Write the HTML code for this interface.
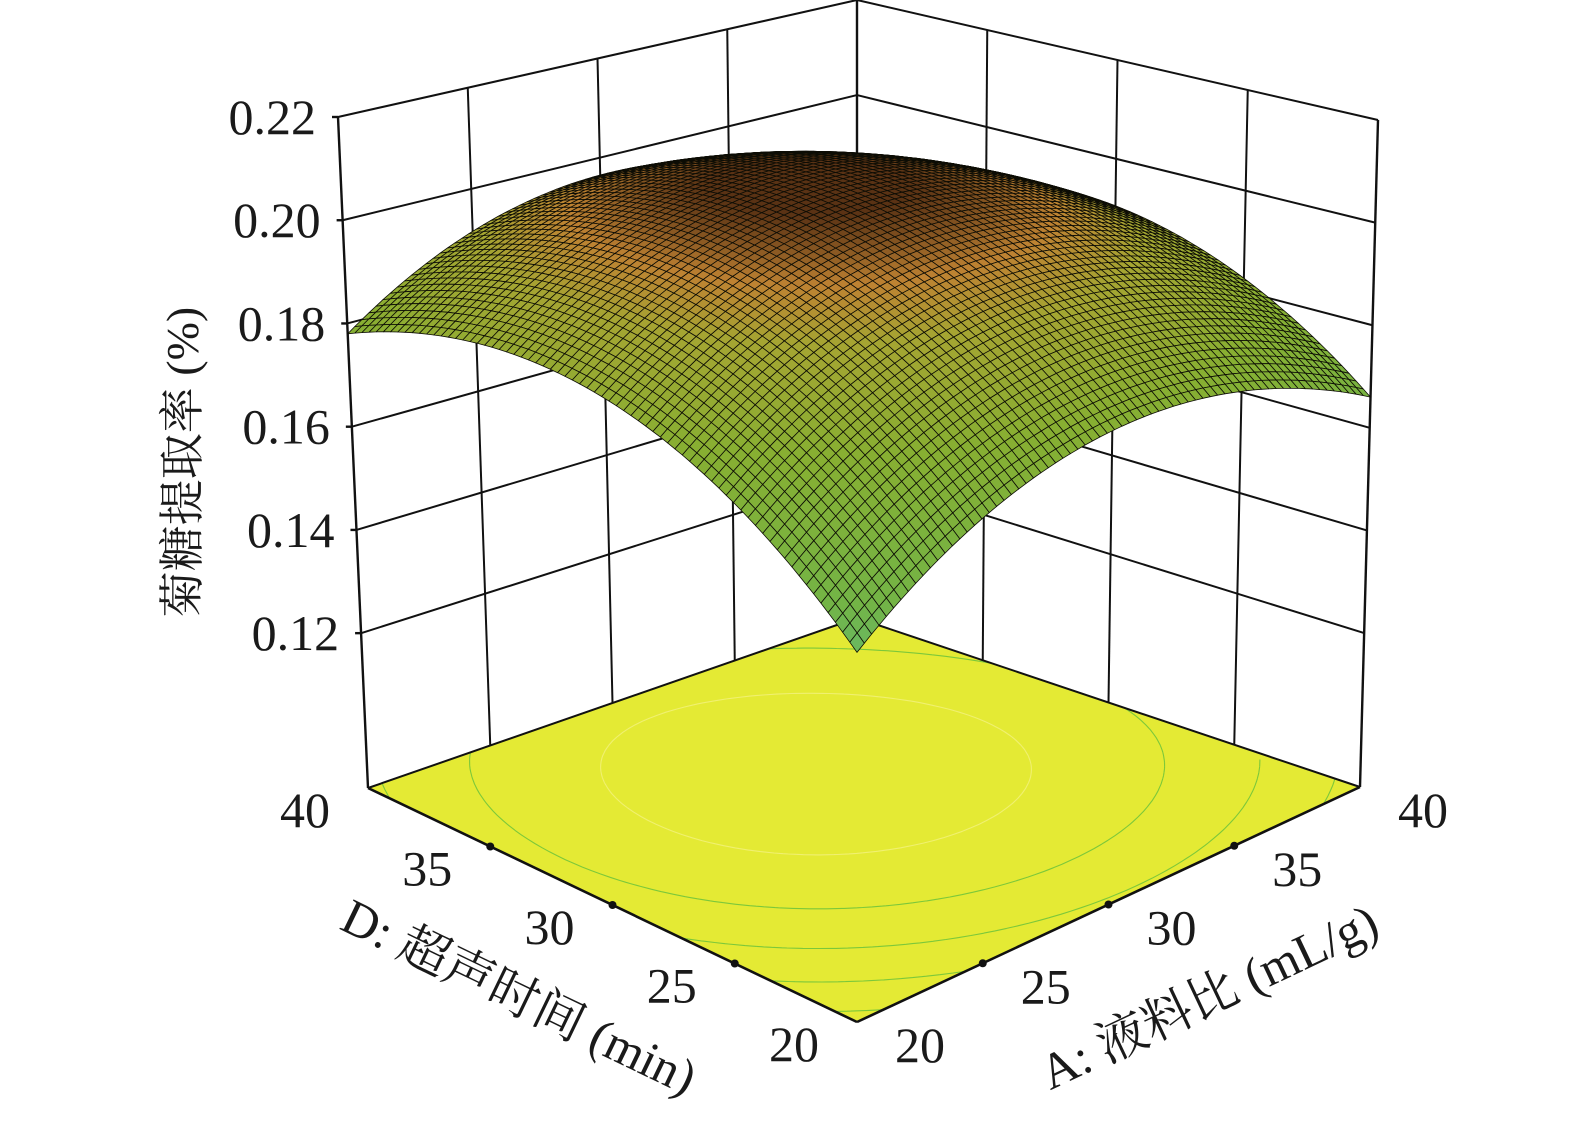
<!DOCTYPE html>
<html><head><meta charset="utf-8">
<style>
html,body{margin:0;padding:0;background:#fff;}
svg text{font-family:"Liberation Serif","Noto Serif CJK SC",serif;fill:#1a1a1a;}
</style></head>
<body>
<svg id="chart" width="1575" height="1130" viewBox="0 0 1575 1130" xmlns="http://www.w3.org/2000/svg">
<g id="floor"></g>
<g id="walls"></g>
<g id="surface"></g>
<g id="axes"></g>
<text transform="translate(198,462) rotate(-90)" text-anchor="middle" font-size="46">菊糖提取率 (%)</text>
<text transform="translate(512,1012) rotate(25.7)" text-anchor="middle" font-size="50">D: 超声时间 (min)</text>
<text transform="translate(1216,1012) rotate(-25.3)" text-anchor="middle" font-size="50">A: 液料比 (mL/g)</text>
</svg>
<script>
const zTicks=[0.12,0.14,0.16,0.18,0.20,0.22];
const zTickLabels=["0.12","0.14","0.16","0.18","0.20","0.22"];
const aTicks=[20,25,30,35,40];
const dTicks=[20,25,30,35,40];
// quadratic model coefficients (coded units u=(A-30)/10, v=(D-30)/10)
const coefIntercept=0.205;
const coefLinear=[0.003,0.009];
const coefQuad=[-0.0175,-0.0175];
const coefCross=-0.002;
const contourLevels=[0.16,0.17,0.18,0.19,0.20];

const NS="http://www.w3.org/2000/svg";
const zMin=0.09,zMax=0.22;
const botC={F:[857,1022],R:[1360,787],L:[368,788],B:[857,618]};
const topC={F:[857,294],R:[1378,120],L:[338,117],B:[857,0]};
function bil(c,s,t){
  const x=c.F[0]*(1-s)*(1-t)+c.R[0]*s*(1-t)+c.L[0]*(1-s)*t+c.B[0]*s*t;
  const y=c.F[1]*(1-s)*(1-t)+c.R[1]*s*(1-t)+c.L[1]*(1-s)*t+c.B[1]*s*t;
  return [x,y];
}
function P(a,d,z){
  const s=(a-20)/20,t=(d-20)/20,w=(z-zMin)/(zMax-zMin);
  const b=bil(botC,s,t),tp=bil(topC,s,t);
  return [b[0]+(tp[0]-b[0])*w,b[1]+(tp[1]-b[1])*w];
}
function model(a,d){
  const u=(a-30)/10,v=(d-30)/10;
  return coefIntercept+coefLinear[0]*u+coefLinear[1]*v+coefQuad[0]*u*u+coefQuad[1]*v*v+coefCross*u*v;
}
function el(tag,attrs,parent){const e=document.createElementNS(NS,tag);for(const k in attrs)e.setAttribute(k,attrs[k]);parent.appendChild(e);return e;}
function pts(arr){return arr.map(p=>p[0].toFixed(1)+","+p[1].toFixed(1)).join(" ");}

// floor
const floorG=document.getElementById('floor');
const fl=el('polygon',{points:pts([P(20,20,zMin),P(40,20,zMin),P(40,40,zMin),P(20,40,zMin)]),fill:'#e4ea34',stroke:'none'},floorG);


const N=60;
for(const lv of contourLevels){
  let dstr='';
  for(let i=0;i<N;i++)for(let j=0;j<N;j++){
    const a0=20+20*i/N,a1=20+20*(i+1)/N,d0=20+20*j/N,d1=20+20*(j+1)/N;
    const c=[[a0,d0],[a1,d0],[a1,d1],[a0,d1]];
    const v=c.map(p=>model(p[0],p[1]));
    const cr=[];
    for(let k=0;k<4;k++){const k2=(k+1)%4;
      if((v[k]-lv)*(v[k2]-lv)<0){const f=(lv-v[k])/(v[k2]-v[k]);
        cr.push([c[k][0]+(c[k2][0]-c[k][0])*f,c[k][1]+(c[k2][1]-c[k][1])*f]);}}
    if(cr.length>=2){const p1=P(cr[0][0],cr[0][1],zMin),p2=P(cr[1][0],cr[1][1],zMin);
      dstr+='M'+p1[0].toFixed(1)+' '+p1[1].toFixed(1)+'L'+p2[0].toFixed(1)+' '+p2[1].toFixed(1);}
  }
  if(dstr){const cp=el('path',{d:dstr,stroke:lv>=0.2?'#f0f070':'#7cc83a','stroke-width':1.1,fill:'none'},floorG);
    
    }
}

// walls
const wallG=document.getElementById('walls');
function ln(p,q,w,name,g){const l=el('line',{x1:p[0],y1:p[1],x2:q[0],y2:q[1],stroke:'#111','stroke-width':w},g||wallG);
  
  return l;}
for(const z of zTicks){
  ln(P(20,40,z),P(40,40,z),2,'left-wall-gridline');
  ln(P(40,40,z),P(40,20,z),2,'right-wall-gridline');
}
for(const a of aTicks.slice(1,-1)) ln(P(a,40,zMin),P(a,40,zMax),2,'left-wall-vertical');
for(const d of dTicks.slice(1,-1)) ln(P(40,d,zMin),P(40,d,zMax),2,'right-wall-vertical');
ln(P(40,40,zMin),P(40,40,zMax),2.4,'back-edge');
ln(P(20,40,zMin),P(20,40,zMax),2.4,'left-edge');
ln(P(40,20,zMin),P(40,20,zMax),2.4,'right-edge');
ln(P(20,40,zMin),P(40,40,zMin),2,'floor-back-left');
ln(P(40,20,zMin),P(40,40,zMin),2,'floor-back-right');

// surface
const surfG=document.getElementById('surface');
const M=70;
function color(z){
  const stops=[[0.15,[95,190,125]],[0.162,[115,180,70]],[0.18,[135,175,50]],[0.193,[165,165,50]],[0.199,[190,130,50]],[0.205,[90,50,20]]];
  if(z<=stops[0][0])return stops[0][1];
  for(let k=0;k<stops.length-1;k++){if(z<=stops[k+1][0]){const f=(z-stops[k][0])/(stops[k+1][0]-stops[k][0]);
    return stops[k][1].map((c,i)=>Math.round(c+(stops[k+1][1][i]-c)*f));}}
  return stops[stops.length-1][1];
}
const cells=[];
for(let i=0;i<M;i++)for(let j=0;j<M;j++)cells.push([i,j]);
cells.sort((p,q)=>(q[0]+q[1])-(p[0]+p[1]));
for(const [i,j] of cells){
  const a0=20+20*i/M,a1=20+20*(i+1)/M,d0=20+20*j/M,d1=20+20*(j+1)/M;
  const q=[P(a0,d0,model(a0,d0)),P(a1,d0,model(a1,d0)),P(a1,d1,model(a1,d1)),P(a0,d1,model(a0,d1))];
  const c=color(model((a0+a1)/2,(d0+d1)/2));
  const pg=el('polygon',{points:pts(q),fill:'rgb('+c[0]+','+c[1]+','+c[2]+')',stroke:'#0d0d05','stroke-width':0.8,'stroke-linejoin':'round'},surfG);
  
  
}

// front axes
const axG=document.getElementById('axes');
ln(P(20,20,zMin),P(20,40,zMin),2.6,'d-axis-line',axG);
ln(P(20,20,zMin),P(40,20,zMin),2.6,'a-axis-line',axG);
zTicks.forEach((z,k)=>{
  const p=P(20,40,z);
  ln([p[0]-6,p[1]],p,2.4,'z-tick',axG);
  const t=el('text',{x:p[0]-22,y:p[1]+17,'text-anchor':'end','font-size':50},axG);
  t.textContent=zTickLabels[k];
  
  
});
dTicks.forEach(d=>{
  const p=P(20,d,zMin);
  if(d>20&&d<40){const c=el('circle',{cx:p[0],cy:p[1],r:4,fill:'#111'},axG);
    
    }
  const t=el('text',{x:p[0]-63,y:p[1]+39,'text-anchor':'middle','font-size':50},axG);
  t.textContent=String(d);
  
  
});
aTicks.forEach(a=>{
  const p=P(a,20,zMin);
  if(a>20&&a<40){const c=el('circle',{cx:p[0],cy:p[1],r:4,fill:'#111'},axG);
    
    }
  const t=el('text',{x:p[0]+63,y:p[1]+40,'text-anchor':'middle','font-size':50},axG);
  t.textContent=String(a);
  
  
});
</script>
</body></html>
